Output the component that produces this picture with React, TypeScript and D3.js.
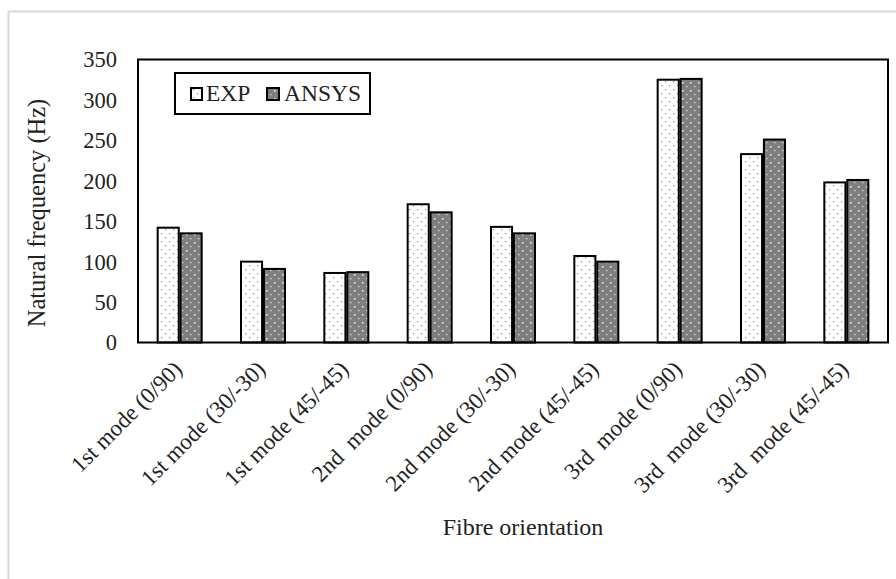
import React from "react";
import * as d3 from "d3";

const categories = [
  "1st mode (0/90)",
  "1st mode (30/-30)",
  "1st mode (45/-45)",
  "2nd  mode (0/90)",
  "2nd mode (30/-30)",
  "2nd mode (45/-45)",
  "3rd  mode (0/90)",
  "3rd  mode (30/-30)",
  "3rd  mode (45/-45)",
];
const expValues = [142, 100, 86, 171, 143, 107, 325, 233, 198];
const ansysValues = [135, 91, 87, 161, 135, 100, 326, 251, 201];
const seriesNames = ["EXP", "ANSYS"];
const yTicks = [0, 50, 100, 150, 200, 250, 300, 350];

const FONT = "Liberation Serif, Times New Roman, serif";
const txt = { fontFamily: FONT, whiteSpace: "pre" as const };

export default function App() {
  const left = 138, right = 888, top = 59.5, bottom = 342.5;
  const x0 = d3.scaleBand<string>().domain(categories).range([left, right]).paddingInner(0).paddingOuter(0);
  const x1 = d3.scaleBand<string>().domain(seriesNames).range([0, 44]).paddingInner(0.08);
  const y = d3.scaleLinear().domain([0, 350]).range([bottom, top]);
  const groupOffset = (x0.bandwidth() - 44) / 2;
  const series = [
    { name: "EXP", values: expValues, fill: "url(#patExp)" },
    { name: "ANSYS", values: ansysValues, fill: "url(#patAnsys)" },
  ];
  return (
    <svg width={896} height={579} style={{ position: "absolute", left: 0, top: 0, background: "#fff" }}>
      <defs>
        <pattern id="patExp" patternUnits="userSpaceOnUse" width={8} height={8}>
          <rect width={8} height={8} fill="#fff" />
          <rect x={1} y={1} width={1.3} height={1.3} fill="#9a9a9a" />
          <rect x={5} y={5} width={1.3} height={1.3} fill="#9a9a9a" />
        </pattern>
        <pattern id="patAnsys" patternUnits="userSpaceOnUse" width={8} height={8}>
          <rect width={8} height={8} fill="#7f7f7f" />
          <rect x={2} y={2} width={1.6} height={1.6} fill="#e8e8e8" />
          <rect x={6} y={6} width={1.6} height={1.2} fill="#cfcfcf" />
        </pattern>
      </defs>
      <rect x={8.5} y={11.5} width={900} height={600} fill="#fff" stroke="#d9d9d9" strokeWidth={2} />
      {yTicks.map((t) => (
        <text key={t} x={117} y={y(t)} dy="0.35em" textAnchor="end" fontSize={22.5} fill="#222" style={txt}>
          {t}
        </text>
      ))}
      {series.map((s) =>
        s.values.map((v, i) => (
          <rect
            key={s.name + i}
            x={(x0(categories[i]) as number) + groupOffset + (x1(s.name) as number)}
            y={y(v)}
            width={x1.bandwidth()}
            height={y(0) - y(v)}
            fill={s.fill}
            stroke="#000"
            strokeWidth={2}
          />
        ))
      )}
      <rect x={left} y={top} width={right - left} height={bottom - top} fill="none" stroke="#000" strokeWidth={2} />
      {categories.map((c) => {
        const cx = (x0(c) as number) + x0.bandwidth() / 2 - 2;
        const cy = 365;
        return (
          <text key={c} x={cx} y={cy} dy="0.35em" textAnchor="end" fontSize={23} fill="#222" transform={`rotate(-45 ${cx} ${cy})`} style={txt}>
            {c}
          </text>
        );
      })}
      <text transform="translate(36 213) rotate(-90)" textAnchor="middle" dy="0.35em" fontSize={24.5} fill="#222" style={txt}>
        Natural frequency (Hz)
      </text>
      <text x={523} y={527} textAnchor="middle" dy="0.35em" fontSize={24} fill="#222" style={txt}>
        Fibre orientation
      </text>
      <rect x={175} y={73} width={195} height={41} fill="#fff" stroke="#000" strokeWidth={2} />
      <rect x={191} y={88} width={11} height={12} fill="url(#patExp)" stroke="#000" strokeWidth={2} />
      <text x={206} y={101} fontSize={23.5} fill="#222" style={txt}>EXP</text>
      <rect x={267} y={88} width={12} height={12} fill="url(#patAnsys)" stroke="#000" strokeWidth={2} />
      <text x={284} y={101} fontSize={23.5} fill="#222" style={txt}>ANSYS</text>
    </svg>
  );
}
